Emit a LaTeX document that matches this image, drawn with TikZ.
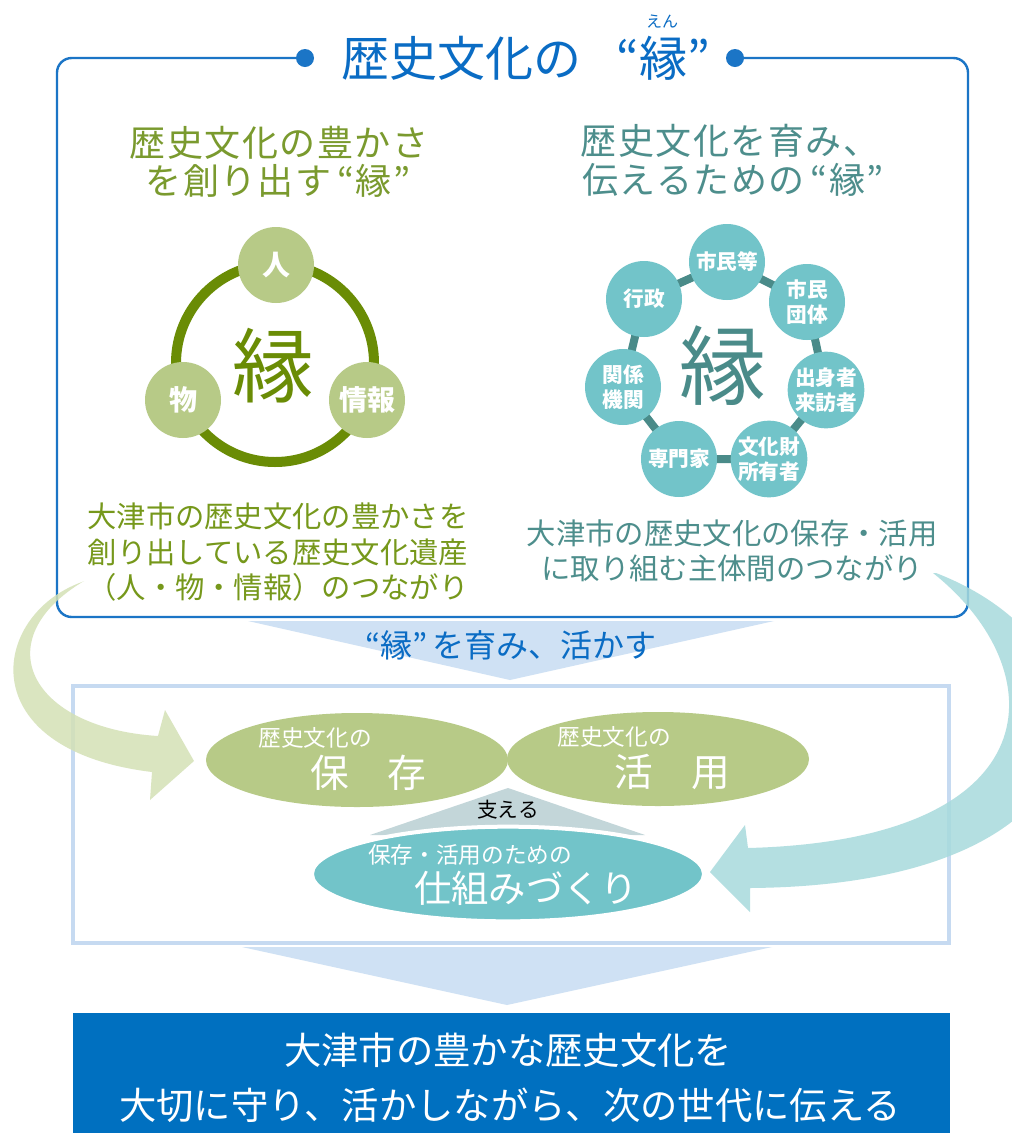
\documentclass[tikz,border=0pt]{standalone}
\usepackage{fontspec}
\setmainfont{Noto Sans CJK JP}
\newfontfamily\spacedfont[LetterSpace=4]{Noto Sans CJK JP}
\usetikzlibrary{shapes.geometric}
\definecolor{tblue}{HTML}{0A6CC4}
\definecolor{fblue}{HTML}{1B75C6}
\definecolor{boxblue}{HTML}{0070C0}
\definecolor{lblue}{HTML}{CFE1F4}
\definecolor{lbframe}{HTML}{C6DAF1}
\definecolor{ringg}{HTML}{6A8C05}
\definecolor{gtitle}{HTML}{7A9A2E}
\definecolor{gtext}{HTML}{76981B}
\definecolor{bigg}{HTML}{6A8C05}
\definecolor{lgreen}{HTML}{B7CA87}
\definecolor{tealc}{HTML}{72C4C9}
\definecolor{ringt}{HTML}{4A8B89}
\definecolor{ttext}{HTML}{4D8E8C}
\definecolor{garrow}{HTML}{D4E1B6}
\definecolor{tarrow}{HTML}{A7DADC}
\definecolor{suppc}{HTML}{C3D6D9}
\newcommand\pxf[1]{\fontsize{#1}{#1}\selectfont}
\begin{document}
\begin{tikzpicture}[x=0.75pt,y=-0.75pt,
  every node/.style={inner sep=0pt, outer sep=0pt},
  gcirc/.style={circle, fill=lgreen, minimum size=57pt, text=white, font=\bfseries\pxf{21}},
  tcirc/.style={circle, fill=tealc, minimum size=57pt, text=white, align=center, font=\bfseries\fontsize{15.5}{19}\selectfont},
  ttl/.style={font=\spacedfont\pxf{27}},
  desc/.style={font=\pxf{22}},
  oval/.style={ellipse, fill=lgreen, minimum width=226.5pt, minimum height=70.5pt},
]
\useasboundingbox (0,0) rectangle (1012,1133);
\fill[white] (0,0) rectangle (1012,1133);

% main frame
\draw[fblue, line width=1.8pt, rounded corners=11pt] (305,58) -- (57,58) -- (57,617) -- (968,617) -- (968,58) -- (735,58);
\fill[fblue] (305,58) circle (9);
\fill[fblue] (735,58) circle (9);
\node[text=tblue, font=\pxf{36}] (title) at (461,58) {歴史文化の};
\node[text=tblue, font=\pxf{36}] (titlekey) at (663,58) {“縁”};
\node[text=tblue, font=\pxf{12}] (ruby) at (662,22) {えん};

% left titles
\node[ttl, text=gtitle] (lt1) at (279,143) {歴史文化の豊かさ};
\node[ttl, text=gtitle] (lt2) at (278,181) {を創り出す\,“縁”};
% right titles
\node[ttl, text=ttext] (rt1) at (730,141) {歴史文化を育み、};
\node[ttl, text=ttext] (rt2) at (733,180) {伝えるための\,“縁”};

% left ring
\draw[ringg, line width=7.5pt] (275,363) circle (99);
\node[text=bigg, font=\pxf{61}] (lkey) at (273,366) {縁};
\node[gcirc] (hito) at (276,265) {人};
\node[gcirc] (mono) at (183,400) {物};
\node[gcirc] (joho) at (367,400) {情報};

% right ring
\coordinate (p1) at (727,262);
\coordinate (p2) at (807,302);
\coordinate (p3) at (826,390);
\coordinate (p4) at (769,459);
\coordinate (p5) at (679,459);
\coordinate (p6) at (623,387);
\coordinate (p7) at (644,299);
\draw[ringt, line width=6pt] (p1) -- (p2) -- (p3) -- (p4) -- (p5) -- (p6) -- (p7) -- cycle;
\node[text=ringt, font=\pxf{65}] (rkey) at (723,366) {縁};
\node[tcirc] (c1) at (p1) {市民等};
\node[tcirc] (c2) at (p2) {市民\\団体};
\node[tcirc] (c3) at (p3) {出身者\\来訪者};
\node[tcirc] (c4) at (p4) {文化財\\所有者};
\node[tcirc] (c5) at (p5) {専門家};
\node[tcirc] (c6) at (p6) {関係\\機関};
\node[tcirc] (c7) at (p7) {行政};

% descriptions
\node[desc, text=gtext] (ld1) at (278,516) {大津市の歴史文化の豊かさを};
\node[desc, text=gtext] (ld2) at (278,552) {創り出している歴史文化遺産};
\node[desc, text=gtext] (ld3) at (278,587) {（人・物・情報）のつながり};
\node[desc, text=ttext] (rd1) at (732,533) {大津市の歴史文化の保存・活用};
\node[desc, text=ttext] (rd2) at (732,568) {に取り組む主体間のつながり};

% arrow down 1
\fill[lblue] (248,621) -- (774,621) -- (510,680) -- cycle;
\node[text=tblue, font=\pxf{24}] (grow) at (511,645) {“縁”\,を育み、活かす};

% light blue frame
\draw[lbframe, line width=3pt] (73,686) rectangle (949,943);

% ovals
\node[oval] (hozon) at (357,760) {};
\node[oval] (katsuyo) at (658,759) {};
\node[text=white, font=\pxf{17}] (h1) at (315,738) {歴史文化の};
\node[text=white, font=\pxf{29}] (h2) at (368,773) {保　存};
\node[text=white, font=\pxf{17}] (k1) at (614,737) {歴史文化の};
\node[text=white, font=\pxf{29}] (k2) at (672,772) {活　用};

\fill[suppc] (508,788) -- (645,835) -- (370,835) -- cycle;
\node[font=\pxf{15.5}] (sasaeru) at (508,810) {支える};
\node[ellipse, fill=tealc, draw=white, line width=3pt, minimum width=294pt, minimum height=71pt] (shikumi) at (508,874) {};
\node[text=white, font=\pxf{17}] (s1) at (470,855) {保存・活用のための};
\node[text=white, font=\pxf{28}] (s2) at (526,888) {仕組みづくり};

% curved arrows
\fill[garrow, opacity=0.85] (82,582) .. controls (-10,615) and (-30,750) .. (152,772)
   -- (150,800) -- (194,761) -- (165,710) -- (158,736)
   .. controls (30,728) and (-15,640) .. (84,581) -- cycle;
\fill[tarrow, opacity=0.85] (936,573) .. controls (1135,650) and (1130,885) .. (750,888)
   -- (750,912) -- (710,872) -- (745,825) -- (748,848)
   .. controls (1055,840) and (1055,670) .. (933,573) -- cycle;

% arrow down 2 and result box
\fill[lblue] (242,947) -- (772,947) -- (507,1005) -- cycle;
\fill[boxblue] (73,1013) rectangle (950,1133);
\node[text=white, font=\pxf{28}] (res1) at (508,1050) {大津市の豊かな歴史文化を};
\node[text=white, font=\pxf{28}] (res2) at (510,1105) {大切に守り、活かしながら、次の世代に伝える};
\end{tikzpicture}
\end{document}
